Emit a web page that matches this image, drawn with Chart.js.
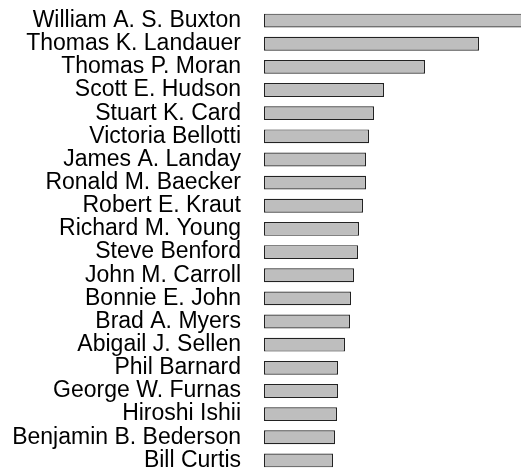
<!DOCTYPE html>
<html>
<head>
<meta charset="utf-8">
<script src="https://cdn.jsdelivr.net/npm/chart.js@4/dist/chart.umd.min.js"></script>
<style>
  html, body { margin: 0; padding: 0; background: #fff; }
  #wrap { width: 521px; height: 472px; }
</style>
</head>
<body>
<div id="wrap"><canvas id="authorChart"></canvas></div>
<script>
// author names, top to bottom
const authors = [
  "William A. S. Buxton", "Thomas K. Landauer", "Thomas P. Moran", "Scott E. Hudson",
  "Stuart K. Card", "Victoria Bellotti", "James A. Landay", "Ronald M. Baecker",
  "Robert E. Kraut", "Richard M. Young", "Steve Benford", "John M. Carroll",
  "Bonnie E. John", "Brad A. Myers", "Abigail J. Sellen", "Phil Barnard",
  "George W. Furnas", "Hiroshi Ishii", "Benjamin B. Bederson", "Bill Curtis"
];
// bar lengths (arbitrary units)
const scores = [
  265, 215, 161, 120, 110, 105, 102, 102, 99, 95,
  94, 90, 87, 86, 81, 74, 74, 73, 71, 69
];
const xMax = 257;

document.addEventListener("DOMContentLoaded", function () {
  const ctx = document.getElementById("authorChart").getContext("2d");

  const data = {
    labels: authors,
    datasets: [
      {
        data: scores,
        backgroundColor: "#bebebe",
        borderColor: "#222222",
        borderWidth: 1.2,
        borderSkipped: false,
        barPercentage: 0.6,
        categoryPercentage: 1.0,
      },
    ],
  };

  const config = {
    type: "bar",
    data: data,
    options: {
      indexAxis: "y",
      responsive: true,
      maintainAspectRatio: false,
      animation: false,
      layout: { padding: { top: 9, bottom: 0, left: 0, right: 0 } },
      plugins: { legend: { display: false }, tooltip: { enabled: false } },
      scales: {
        x: { display: false, min: 0, max: xMax },
        y: {
          grid: { display: false, drawTicks: false },
          border: { display: false },
          ticks: {
            autoSkip: false,
            padding: 23,
            color: "#000",
            font: { family: "Liberation Sans, Arial, sans-serif", size: 23 },
          },
          afterFit: function (scale) {
            scale.width = 264;
            scale.paddingTop = 0;
            scale.paddingBottom = 0;
          },
        },
      },
    },
  };

  new Chart(ctx, config);
});
</script>
</body>
</html>
